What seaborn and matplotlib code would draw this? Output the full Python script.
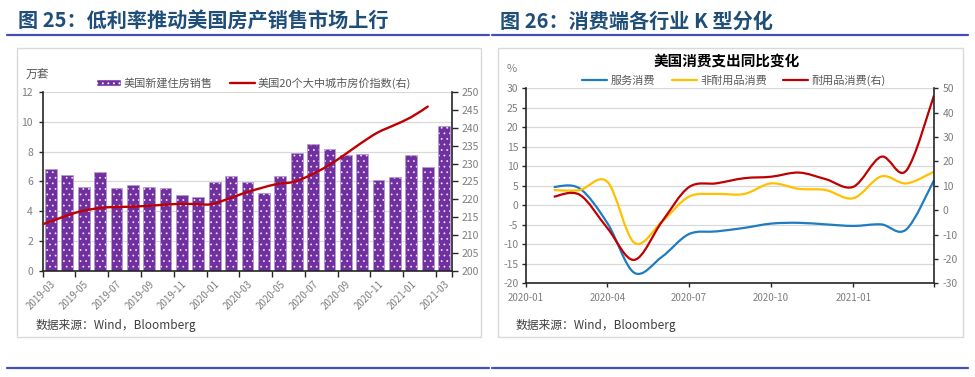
import numpy as np
import pandas as pd
import matplotlib
matplotlib.use("Agg")
import matplotlib.pyplot as plt
import matplotlib.dates as mdates
import matplotlib.colors as mcolors
from matplotlib.path import Path
from matplotlib.patches import PathPatch, Patch, Rectangle
from matplotlib.lines import Line2D
import seaborn as sns

# ---------------- data ----------------
# Figure 25: US new home sales (10k units) & 20-city house price index (right axis)
months = list(pd.date_range("2019-03-01", "2021-03-01", freq="MS").strftime("%Y-%m"))
new_home_sales = [6.84, 6.44, 5.63, 6.64, 5.54, 5.77, 5.63, 5.54, 5.07, 4.96,
                  5.95, 6.37, 5.95, 5.23, 6.40, 7.94, 8.54, 8.16, 7.75, 7.87,
                  6.12, 6.31, 7.75, 7.00, 9.70]
price_index = [213.0, 214.7, 216.3, 217.3, 217.8, 217.9, 218.1, 218.4, 218.7, 218.7,
               218.6, 220.0, 221.7, 223.1, 224.3, 224.9, 226.8, 229.3, 232.4, 235.7,
               238.7, 240.8, 243.0, 246.0]
left_xlabels = months[::2]

# Figure 26: US consumption spending YoY (%)
pce_dates = pd.date_range("2020-02-01", "2021-04-01", freq="MS")
services = [4.7, 4.3, -4.6, -17.3, -13.2, -7.4, -6.7, -5.8, -4.7, -4.5, -4.9, -5.3, -4.9, -6.2, 6.4]
nondurable = [3.9, 3.9, 6.0, -9.6, -4.2, 2.2, 2.9, 2.9, 5.6, 4.2, 3.9, 1.8, 7.4, 5.6, 8.6]
durable = [5.5, 6.3, -7.4, -20.4, -4.7, 9.4, 11.0, 13.1, 13.7, 15.4, 12.7, 9.6, 21.9, 16.2, 47.0]
right_tick_dates = pd.to_datetime(["2020-01-01", "2020-04-01", "2020-07-01",
                                   "2020-10-01", "2021-01-01", "2021-04-01"])
right_tick_labels = ["2020-01", "2020-04", "2020-07", "2020-10", "2021-01", ""]

# ---------------- style ----------------
sns.set_style("white")
plt.rcParams["font.family"] = ["Noto Sans CJK SC", "DejaVu Sans"]
plt.rcParams["hatch.color"] = "white"
plt.rcParams["hatch.linewidth"] = 0.6
plt.rcParams["axes.unicode_minus"] = False

TITLE_C = "#1F4E79"
RULE_C = "#4050B5"
GRID_C = "#D9D9D9"
SPINE_C = "#262626"
TICK_C = "#7F7F7F"
TXT_C = "#595959"
PURPLE = "#7030A0"
RED = "#C00000"
BLUE = "#1F7CC1"
YELLOW = "#FFC000"


def smooth_path(xs, ys):
    pts = np.column_stack([np.asarray(xs, float), np.asarray(ys, float)])
    n = len(pts)
    verts = [pts[0]]
    codes = [Path.MOVETO]
    for i in range(n - 1):
        p0 = pts[i - 1] if i > 0 else pts[i]
        p1 = pts[i]
        p2 = pts[i + 1]
        p3 = pts[i + 2] if i + 2 < n else pts[i + 1]
        verts += [p1 + (p2 - p0) / 6.0, p2 - (p3 - p1) / 6.0, p2]
        codes += [Path.CURVE4] * 3
    return Path(verts, codes)


def set_hatch_white(p):
    if hasattr(p, "set_hatchcolor"):
        p.set_hatchcolor((1, 1, 1, 0.75))
    else:
        p._hatch_color = mcolors.to_rgba((1, 1, 1, 0.75))


fig = plt.figure(figsize=(9.75, 3.77), dpi=100)
W, H = 975.0, 377.0

# ---------------- page decorations ----------------
fig.text(18 / W, 1 - 20 / H, "图 25：低利率推动美国房产销售市场上行", fontsize=14.5,
         fontweight="bold", color=TITLE_C, va="center", ha="left")
fig.text(500 / W, 1 - 21 / H, "图 26：消费端各行业 K 型分化", fontsize=14.5,
         fontweight="bold", color=TITLE_C, va="center", ha="left")
for x0, x1 in [(7, 489), (492, 968)]:
    fig.add_artist(Line2D([x0 / W, x1 / W], [1 - 35 / H] * 2, color=RULE_C, lw=1.6))
    fig.add_artist(Line2D([x0 / W, x1 / W], [1 - 368 / H] * 2, color=RULE_C, lw=1.6))
for x0, x1 in [(17, 481), (498, 963)]:
    fig.add_artist(Rectangle((x0 / W, 1 - 337 / H), (x1 - x0) / W, 289 / H,
                             fill=False, edgecolor=GRID_C, lw=1.0))

# ---------------- left chart ----------------
ax = fig.add_axes([42.7 / W, 1 - 270.7 / H, (452.3 - 42.7) / W, (270.7 - 92.3) / H])
df_bar = pd.DataFrame({"month": months, "sales": new_home_sales})
sns.barplot(data=df_bar, x="month", y="sales", color=PURPLE, saturation=1,
            width=0.72, ax=ax)
for p in ax.patches:
    p.set_edgecolor("#B49AD0")
    p.set_linewidth(0.5)
    p.set_hatch("...")
    set_hatch_white(p)
ax.set_xlim(-0.5, len(months) - 0.5)
ax.set_ylim(0, 12)
ax.set_yticks(np.arange(0, 13, 2))
ax.yaxis.grid(True, color=GRID_C, lw=0.9)
ax.set_axisbelow(True)
ax.set_xlabel("")
ax.set_ylabel("")
major_x = list(np.arange(-0.5, len(months) - 1, 2)) + [len(months) - 0.5]
ax.set_xticks(major_x)
ax.set_xticklabels([""] * len(major_x))
ax.set_xticks(np.arange(0, len(months), 2), minor=True)
ax.set_xticklabels(left_xlabels, minor=True, rotation=45, ha="right",
                   rotation_mode="anchor", fontsize=7, color=TICK_C)
ax.tick_params(axis="x", which="major", direction="out", length=4, width=1,
               color=SPINE_C, bottom=True)
ax.tick_params(axis="x", which="minor", length=0, pad=6, bottom=True)
ax.tick_params(axis="y", direction="out", length=3, width=1, color=SPINE_C,
               labelcolor=TICK_C, labelsize=7.5, pad=4, left=True)
for s in ["top", "right"]:
    ax.spines[s].set_visible(False)
for s in ["left", "bottom"]:
    ax.spines[s].set_color(SPINE_C)
    ax.spines[s].set_linewidth(1.2)

ax2 = ax.twinx()
price_x = np.linspace(-0.5, 23.0, len(price_index))
ax2.add_patch(PathPatch(smooth_path(price_x, price_index), facecolor="none",
                        edgecolor=RED, lw=1.7, capstyle="round"))
ax2.set_ylim(200, 250)
ax2.set_yticks(np.arange(200, 251, 5))
ax2.set_xlim(-0.5, len(months) - 0.5)
ax2.tick_params(axis="y", direction="out", length=4, width=1, color=SPINE_C,
                labelcolor=TICK_C, labelsize=7.5, pad=3, right=True)
for s in ["top", "left", "bottom"]:
    ax2.spines[s].set_visible(False)
ax2.spines["right"].set_color(SPINE_C)
ax2.spines["right"].set_linewidth(1.2)
ax2.grid(False)

fig.text(26 / W, 1 - 75 / H, "万套", fontsize=8.5, color=TXT_C, va="center", ha="left")
h1 = Patch(facecolor=PURPLE, hatch="...", label="美国新建住房销售")
h2 = Line2D([], [], color=RED, lw=1.7, label="美国20个大中城市房价指数(右)")
fig.legend(handles=[h1, h2], loc="center", bbox_to_anchor=(253.5 / W, 1 - 82.7 / H),
           ncol=2, frameon=False, fontsize=8, handlelength=2.25, handleheight=0.65,
           handletextpad=0.3, columnspacing=1.5, labelcolor=TXT_C)
fig.text(36 / W, 1 - 325.7 / H, "数据来源：Wind，Bloomberg", fontsize=8.5,
         color="#404040", va="center", ha="left")

# ---------------- right chart ----------------
ax3 = fig.add_axes([526 / W, 1 - 283.3 / H, (934 - 526) / W, (283.3 - 88.2) / H])
xnum = mdates.date2num(pce_dates)
ax3.add_patch(PathPatch(smooth_path(xnum, services), facecolor="none",
                        edgecolor=BLUE, lw=1.6))
ax3.add_patch(PathPatch(smooth_path(xnum, nondurable), facecolor="none",
                        edgecolor=YELLOW, lw=1.6))
ax3.set_xlim(mdates.date2num(right_tick_dates[0]), mdates.date2num(right_tick_dates[-1]))
ax3.set_ylim(-20, 30)
ax3.set_yticks(np.arange(-20, 31, 5))
ax3.yaxis.grid(True, color=GRID_C, lw=0.9)
ax3.set_axisbelow(True)
ax3.set_xticks(mdates.date2num(right_tick_dates))
ax3.set_xticklabels(right_tick_labels, fontsize=7, color=TICK_C)
ax3.tick_params(axis="x", direction="out", length=3, width=1, color=SPINE_C,
                pad=4, bottom=True)
ax3.tick_params(axis="y", direction="out", length=3, width=1, color=SPINE_C,
                labelcolor=TICK_C, labelsize=7.5, pad=2.5, left=True)
for s in ["top", "right"]:
    ax3.spines[s].set_visible(False)
for s in ["left", "bottom"]:
    ax3.spines[s].set_color(SPINE_C)
    ax3.spines[s].set_linewidth(1.2)

ax4 = ax3.twinx()
ax4.add_patch(PathPatch(smooth_path(xnum, durable), facecolor="none",
                        edgecolor=RED, lw=1.6))
ax4.set_ylim(-30, 50)
ax4.set_yticks(np.arange(-30, 51, 10))
ax4.tick_params(axis="y", direction="out", length=3, width=1, color=SPINE_C,
                labelcolor=TICK_C, labelsize=7.5, pad=3, right=True)
for s in ["top", "left", "bottom"]:
    ax4.spines[s].set_visible(False)
ax4.spines["right"].set_color(SPINE_C)
ax4.spines["right"].set_linewidth(1.2)
ax4.grid(False)

fig.text(726.7 / W, 1 - 61.7 / H, "美国消费支出同比变化", fontsize=10.5,
         fontweight="bold", color="black", va="center", ha="center")
fig.text(511.7 / W, 1 - 69 / H, "%", fontsize=8, color=TICK_C, va="center", ha="center")
lh = [Line2D([], [], color=BLUE, lw=1.6, label="服务消费"),
      Line2D([], [], color=YELLOW, lw=1.6, label="非耐用品消费"),
      Line2D([], [], color=RED, lw=1.6, label="耐用品消费(右)")]
fig.legend(handles=lh, loc="center", bbox_to_anchor=(734 / W, 1 - 80 / H), ncol=3,
           frameon=False, fontsize=8, handlelength=2.25, handletextpad=0.3,
           columnspacing=1.5, labelcolor=TXT_C)
fig.text(516 / W, 1 - 325 / H, "数据来源：Wind，Bloomberg", fontsize=8.5,
         color="#404040", va="center", ha="left")

fig.savefig("out.png", dpi=100)
